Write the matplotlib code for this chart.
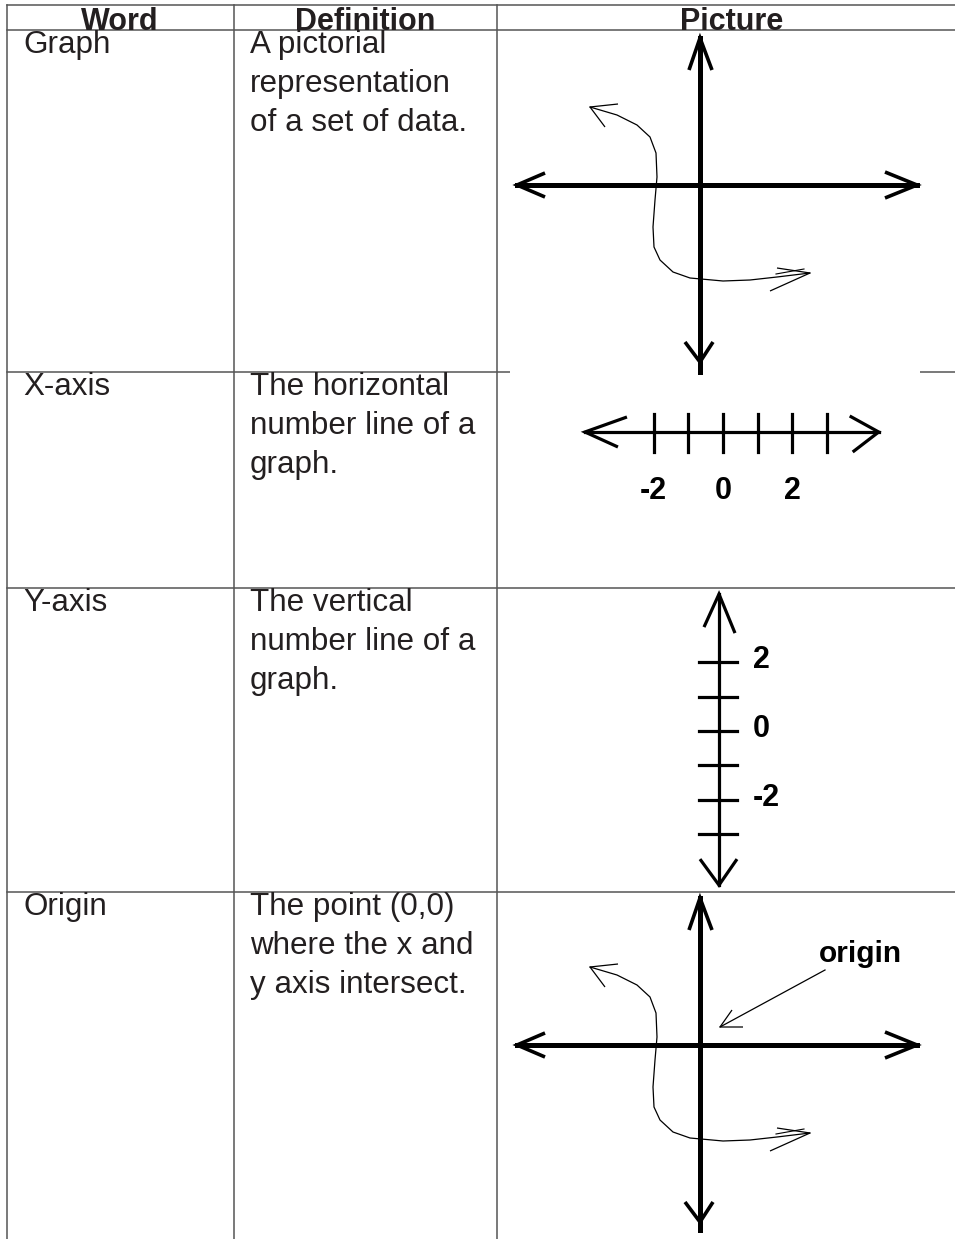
import matplotlib
matplotlib.use("Agg")
import matplotlib.pyplot as plt
from matplotlib.patches import Rectangle

plt.rcParams["font.family"] = ["Liberation Sans", "DejaVu Sans"]

# table content
HEADERS = ["Word", "Definition", "Picture"]
WORDS = ["Graph", "X-axis", "Y-axis", "Origin"]
DEFINITIONS = [
    ["A pictorial", "representation", "of a set of data."],
    ["The horizontal", "number line of a", "graph."],
    ["The vertical", "number line of a", "graph."],
    ["The point (0,0)", "where the x and", "y axis intersect."],
]

# number line pictures: tick values and the ones that get a label
X_TICKS = [-2, -1, 0, 1, 2, 3]
X_TICK_LABELS = {-2: "-2", 0: "0", 2: "2"}
Y_TICKS = [2, 1, 0, -1, -2, -3]
Y_TICK_LABELS = {2: "2", 0: "0", -2: "-2"}

# hand-drawn curve of the "graph" picture, relative to where the axes cross
CURVE_X = [-110, -83, -63, -50, -44, -43, -45, -47, -46, -40, -27, -10, 23, 50, 77, 110]
CURVE_Y = [-78, -70, -60, -48, -32, -8, 15, 42, 62, 75, 87, 93, 96, 95, 92, 88]

# layout, in pixels of the 955 x 1239 canvas
W, H = 955, 1239
COL_X = [7, 234, 497]
ROW_Y = [5, 30, 372, 588, 892]
GRID = "#555555"
INK = "#231f20"

fig = plt.figure(figsize=(W / 100, H / 100), dpi=100)
ax = fig.add_axes([0, 0, 1, 1])
ax.set_xlim(0, W)
ax.set_ylim(H, 0)
ax.axis("off")

# grid
for y in ROW_Y:
    ax.plot([COL_X[0], W], [y, y], color=GRID, lw=1.1, zorder=1)
for x in COL_X:
    ax.plot([x, x], [ROW_Y[0], H], color=GRID, lw=1.1, zorder=1)

# headers
for x, label in zip([120, 365, 732], HEADERS):
    ax.text(x, 29.5, label, ha="center", va="baseline", fontsize=22,
            fontweight="bold", color=INK, zorder=2)

# words and definitions
LINE_STEP = 38.8
for i, (word, lines) in enumerate(zip(WORDS, DEFINITIONS)):
    base = ROW_Y[i + 1] + 23
    ax.text(23, base, word, va="baseline", fontsize=22.6, color=INK, zorder=2)
    for j, line in enumerate(lines):
        ax.text(250, base + j * LINE_STEP, line, va="baseline", fontsize=22.6,
                color=INK, zorder=2)


def arms(tip, a, b, lw, z=4):
    ax.plot([a[0], tip[0], b[0]], [a[1], tip[1], b[1]], color="black", lw=lw,
            solid_capstyle="butt", solid_joinstyle="miter", zorder=z)


def graph_picture(ox, oy, bottom):
    # thick axes with open arrowheads
    ax.plot([ox - 183, ox + 217], [oy, oy], color="black", lw=3.6, zorder=4)
    ax.plot([ox, ox], [oy - 147, oy + bottom], color="black", lw=3.6, zorder=4)
    arms((ox - 183, oy), (ox - 155, oy - 12), (ox - 155, oy + 12), 2.6)
    arms((ox + 217, oy), (ox + 185, oy - 13), (ox + 185, oy + 13), 2.6)
    arms((ox, oy - 147), (ox - 11, oy - 115), (ox + 12, oy - 115), 2.6)
    arms((ox, oy + 177), (ox - 15, oy + 157), (ox + 13, oy + 157), 2.6)
    # freehand curve
    cx = [ox + v for v in CURVE_X]
    cy = [oy + v for v in CURVE_Y]
    ax.plot(cx, cy, color="black", lw=0.9, zorder=4)
    arms((cx[0], cy[0]), (ox - 82, oy - 81), (ox - 95, oy - 58), 0.9)
    arms((cx[-1], cy[-1]), (ox + 77, oy + 83), (ox + 70, oy + 106), 0.9)
    ax.plot([ox + 76, ox + 104], [oy + 89, oy + 84], color="black", lw=0.8, zorder=4)


# row 1: graph picture sits on a white image that hides part of the grid line
ax.add_patch(Rectangle((510, 31), 410, 342, facecolor="white", edgecolor="none", zorder=3))
graph_picture(700, 185, 187)

# row 2: horizontal number line
X0, XSTEP, XLINE = 723, 34.6, 432
ax.plot([X0 - 3.99 * XSTEP, X0 + 4.5 * XSTEP], [XLINE, XLINE], color="black", lw=2.3, zorder=4)
for v in X_TICKS:
    x = X0 + v * XSTEP
    ax.plot([x, x], [XLINE - 18, XLINE + 20], color="black", lw=2.3, zorder=4)
    if v in X_TICK_LABELS:
        ax.text(x, 499, X_TICK_LABELS[v], ha="center", va="baseline", fontsize=22,
                fontweight="bold", color="black", zorder=4)
xl, xr = X0 - 3.99 * XSTEP, X0 + 4.5 * XSTEP
arms((xl, XLINE), (xl + 42, XLINE - 15), (xl + 33, XLINE + 15), 2.3)
arms((xr, XLINE), (xr - 29, XLINE - 16), (xr - 26, XLINE + 20), 2.3)

# row 3: vertical number line
Y0, YSTEP, YLINE = 731, 34.4, 719
yt, yb = Y0 - 3.98 * YSTEP, Y0 + 4.48 * YSTEP
ax.plot([YLINE, YLINE], [yt, yb], color="black", lw=2.3, zorder=4)
for v in Y_TICKS:
    y = Y0 - v * YSTEP
    ax.plot([YLINE - 20, YLINE + 18], [y, y], color="black", lw=2.3, zorder=4)
    if v in Y_TICK_LABELS:
        ax.text(753, y - 2, Y_TICK_LABELS[v], ha="left", va="center", fontsize=22,
                fontweight="bold", color="black", zorder=4)
arms((YLINE, yt), (YLINE - 15, yt + 33), (YLINE + 16, yt + 39), 2.3)
arms((YLINE, yb), (YLINE - 19, yb - 26), (YLINE + 18, yb - 26), 2.3)

# row 4: graph picture with the origin pointed out
graph_picture(700, 1045, 185)
ax.text(860, 962, "origin", ha="center", va="baseline", fontsize=21.5,
        fontweight="bold", color="black", zorder=4)
ax.plot([825, 720], [970, 1027], color="black", lw=0.9, zorder=4)
arms((720, 1027), (732, 1010), (743, 1027), 0.9)

fig.savefig("out.png", dpi=100)
